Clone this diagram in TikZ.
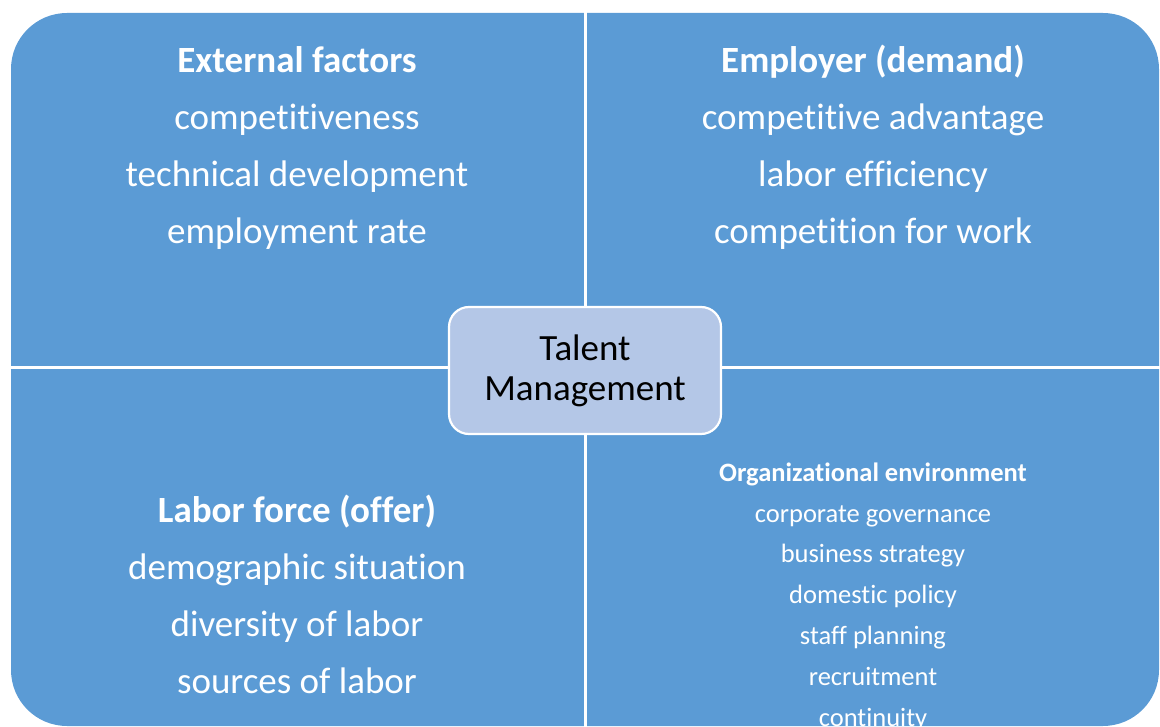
\documentclass[tikz,border=0pt]{standalone}
\usepackage{fontspec}
\setmainfont{Carlito}[Ligatures={NoCommon}]
\definecolor{quadblue}{HTML}{5B9BD5}
\definecolor{hubblue}{HTML}{B4C7E7}
\begin{document}
\begin{tikzpicture}[x=1pt,y=-1pt,
  quadtext/.style={text=white, align=center, anchor=base, inner sep=0pt,
    font=\fontsize{37}{57}\selectfont},
  smalltext/.style={text=white, align=center, anchor=base, inner sep=0pt,
    font=\fontsize{26.5}{40.8}\selectfont},
  hub/.style={draw=white, line width=2.2pt, fill=hubblue, rounded corners=20pt,
    minimum width=272pt, minimum height=127pt, align=center, text=black,
    font=\fontsize{37}{40}\selectfont}]
  \useasboundingbox (0,0) rectangle (1160,727);
  % outer panel
  \fill[quadblue, rounded corners=56pt] (11,13) rectangle (1159,726);
  % quadrant dividers
  \draw[white, line width=3pt] (585,0) coordinate (vtop) -- (585,727) coordinate (vbot);
  \draw[white, line width=3pt] (0,368) coordinate (hleft) -- (1160,368) coordinate (hright);
  % quadrant texts (anchored at the baseline of the last line)
  \node[quadtext] (ext) at (297,243.5) {\textbf{External factors}\\competitiveness\\technical development\\employment rate};
  \node[quadtext] (emp) at (873,243.5) {\textbf{Employer (demand)}\\competitive advantage\\labor efficiency\\competition for work};
  \node[quadtext] (lab) at (297,693) {\textbf{Labor force (offer)}\\demographic situation\\diversity of labor\\sources of labor};
  \node[smalltext] (org) at (873,726) {\textbf{Organizational environment}\\corporate governance\\business strategy\\domestic policy\\staff planning\\recruitment\\continuity};
  % central hub
  \node[hub] (tm) at (585,370.5) {\raisebox{-4pt}{Talent}\\\raisebox{-4pt}{Management}};
\end{tikzpicture}
\end{document}
